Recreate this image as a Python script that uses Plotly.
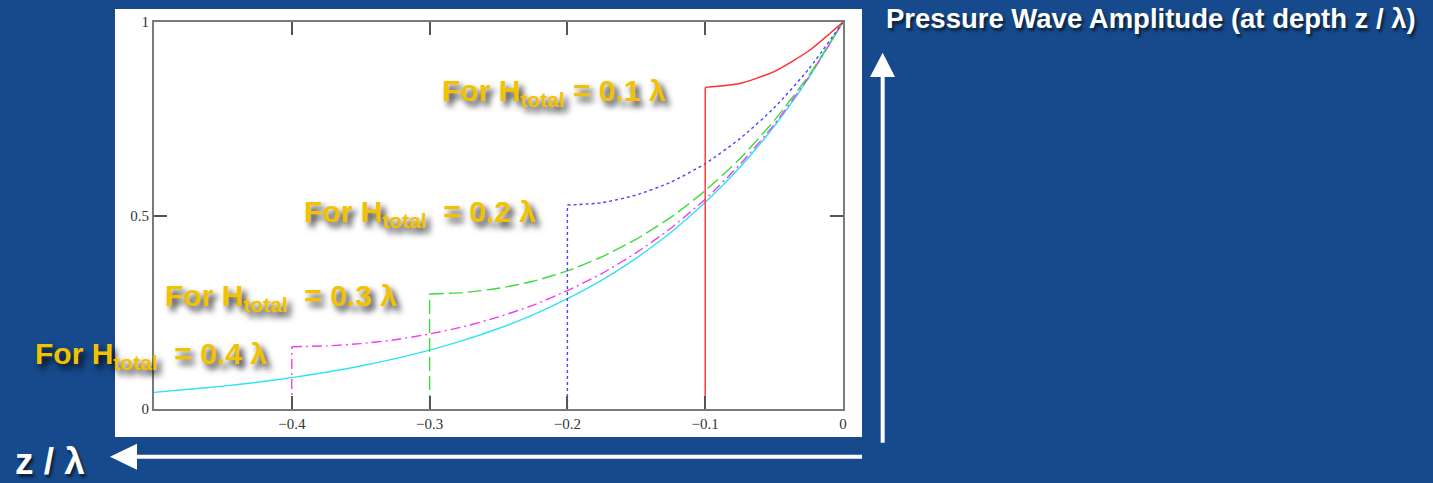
import plotly.graph_objects as go

# depth z / lambda and pressure amplitude
Z_DEEP = [-0.5, -0.475, -0.45, -0.425, -0.4, -0.375, -0.35, -0.325, -0.3, -0.275, -0.25,
          -0.225, -0.2, -0.175, -0.15, -0.125, -0.1, -0.075, -0.05, -0.025, 0.0]
AMP_DEEP = [0.043, 0.051, 0.059, 0.069, 0.081, 0.095, 0.111, 0.130, 0.152, 0.178, 0.208,
            0.243, 0.285, 0.333, 0.390, 0.456, 0.534, 0.624, 0.730, 0.855, 1.0]

Z_H01 = [-0.1, -0.1, -0.075, -0.05, -0.025, 0.0]
AMP_H01 = [0.0, 0.831, 0.841, 0.872, 0.925, 1.0]

Z_H02 = [-0.2, -0.2, -0.175, -0.15, -0.125, -0.1, -0.075, -0.05, -0.025, 0.0]
AMP_H02 = [0.0, 0.527, 0.533, 0.553, 0.586, 0.634, 0.698, 0.778, 0.878, 1.0]

Z_H03 = [-0.3, -0.3, -0.275, -0.25, -0.225, -0.2, -0.175, -0.15, -0.125, -0.1,
         -0.075, -0.05, -0.025, 0.0]
AMP_H03 = [0.0, 0.297, 0.301, 0.312, 0.330, 0.357, 0.393, 0.439, 0.495, 0.564,
           0.646, 0.745, 0.861, 1.0]

Z_H04 = [-0.4, -0.4, -0.375, -0.35, -0.325, -0.3, -0.275, -0.25, -0.225, -0.2,
         -0.175, -0.15, -0.125, -0.1, -0.075, -0.05, -0.025, 0.0]
AMP_H04 = [0.0, 0.161, 0.163, 0.169, 0.179, 0.194, 0.213, 0.238, 0.268, 0.306,
           0.350, 0.404, 0.467, 0.542, 0.631, 0.735, 0.857, 1.0]

X_TICKS = [-0.4, -0.3, -0.2, -0.1, 0]
Y_TICKS = [0, 0.5, 1]
LABELS = ["For H<sub>total</sub> = 0.1 λ",
          "For H<sub>total</sub>\u00a0\u00a0= 0.2 λ",
          "For H<sub>total</sub>\u00a0\u00a0= 0.3 λ",
          "For H<sub>total</sub>\u00a0\u00a0= 0.4 λ"]

BG = "#174a8c"
YELLOW = "#f2c200"

fig = go.Figure()
series = [
    (Z_DEEP, AMP_DEEP, "#2ee3f2", "solid", False),
    (Z_H04, AMP_H04, "#f23cf2", "10px,4px,2px,4px", True),
    (Z_H03, AMP_H03, "#3ddc3d", "14px,5px", True),
    (Z_H02, AMP_H02, "#4646ff", "3px,3px", True),
    (Z_H01, AMP_H01, "#ff2d2d", "solid", True),
]
for z, a, col, dash, has_floor in series:
    start = 0
    if has_floor:
        # straight drop at the sea floor, then the smooth curve up to the surface
        fig.add_trace(go.Scatter(x=z[:2], y=a[:2], mode="lines",
                                 line=dict(color=col, width=1.4, dash=dash),
                                 hoverinfo="skip", showlegend=False))
        start = 1
    fig.add_trace(go.Scatter(x=z[start:], y=a[start:], mode="lines",
                             line=dict(color=col, width=1.4, dash=dash,
                                       shape="spline", smoothing=0.6),
                             hoverinfo="skip", showlegend=False))

axis_common = dict(showline=True, linecolor="#7a7a7a", linewidth=2, mirror="ticks",
                   ticks="inside", ticklen=13, tickwidth=1.5, tickcolor="#555",
                   showgrid=False, zeroline=False,
                   tickfont=dict(family="Liberation Serif", size=15, color="#333"))
fig.update_xaxes(range=[-0.5, 0], tickvals=X_TICKS, **axis_common)
fig.update_yaxes(range=[0, 1], tickvals=Y_TICKS, **axis_common)

# white panel behind the plot
shapes = [dict(type="rect", xref="paper", yref="paper", x0=-0.0566, x1=1.0276,
               y0=-0.0724, y1=1.0336, fillcolor="white", line_width=0, layer="below")]
# up arrow (amplitude) and left arrow (depth)
shapes += [
    dict(type="line", xref="paper", yref="paper", x0=1.0576, x1=1.0576, y0=-0.0871,
         y1=0.86, line=dict(color="white", width=4)),
    dict(type="path", xref="paper", yref="paper",
         path="M 1.0392 0.8579 L 1.0576 0.9207 L 1.0755 0.8579 Z",
         fillcolor="white", line_width=0),
    dict(type="line", xref="paper", yref="paper", x0=1.0276, x1=-0.026, y0=-0.1233,
         y1=-0.1233, line=dict(color="white", width=4)),
    dict(type="path", xref="paper", yref="paper",
         path="M -0.0247 -0.0897 L -0.0639 -0.1233 L -0.0247 -0.1568 Z",
         fillcolor="white", line_width=0),
]

label_font = dict(family="Liberation Sans", size=30, color=YELLOW,
                  weight="bold", shadow="4px 5px 6px rgba(0,0,0,0.85)")
label_pos = [(0.4151, 0.819), (0.2148, 0.504), (0.0131, 0.287), (-0.1756, 0.1395)]
annotations = []
for text, (px, py) in zip(LABELS, label_pos):
    annotations.append(dict(text=text, x=px, y=py, xref="paper", yref="paper",
                            xanchor="left", yanchor="middle", showarrow=False,
                            font=label_font))

annotations.append(dict(text="Pressure Wave Amplitude (at depth z / λ)", x=1.0595, y=1.01,
                        xref="paper", yref="paper", xanchor="left", yanchor="middle",
                        showarrow=False,
                        font=dict(family="Liberation Sans", size=27.5, color="white",
                                  weight="bold", shadow="2px 3px 3px rgba(0,0,0,0.6)")))
annotations.append(dict(text="z / λ", x=-0.2046, y=-0.136, xref="paper", yref="paper",
                        xanchor="left", yanchor="middle", showarrow=False,
                        font=dict(family="Liberation Sans", size=37, color="white",
                                  weight="bold", shadow="2px 3px 3px rgba(0,0,0,0.6)")))

fig.update_layout(
    width=1433, height=483,
    margin=dict(l=154, r=590, t=22, b=74),
    paper_bgcolor=BG, plot_bgcolor="white",
    shapes=shapes, annotations=annotations,
    showlegend=False,
)

# drop the default page margin so the figure fills the window
fig.write_html("out.html", config={"displayModeBar": False},
               post_script="document.body.style.margin='0';")
